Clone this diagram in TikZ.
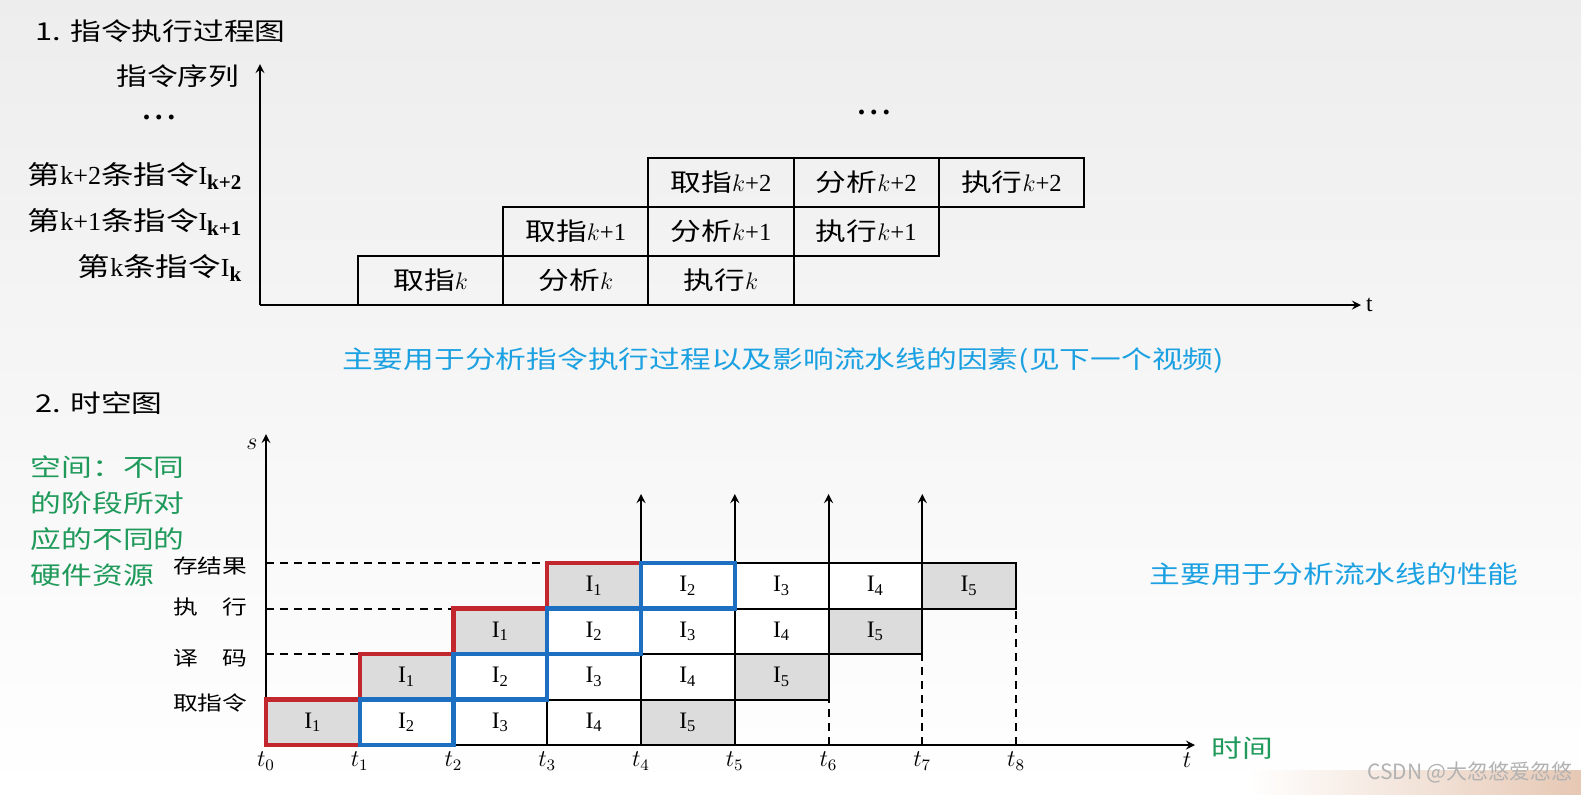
\documentclass[tikz,border=0pt]{standalone}
\usepackage{fontspec}
\setmainfont{Liberation Serif}
\newfontfamily\cjk[FakeStretch=1.25]{Noto Sans CJK SC}
\newfontfamily\cjkplain{Noto Sans CJK SC}
\newcommand\zh[1]{{\cjk #1}}
\newcommand\lowsub[1]{\raisebox{-0.35ex}{\fontsize{10.5}{12}\selectfont\bfseries #1}}
\definecolor{notecyan}{HTML}{1BA1E2}
\definecolor{notegreen}{HTML}{1F9A5B}
\definecolor{stagered}{HTML}{C1272D}
\definecolor{stageblue}{HTML}{1D6FC2}
\definecolor{cellgray}{HTML}{DCDCDC}
\definecolor{peach}{HTML}{E6C8B4}
\begin{document}
\begin{tikzpicture}[x=0.5pt,y=-0.5pt,line width=1pt,>=stealth,
	font=\fontsize{11.8}{13}\selectfont,
	zhbig/.style={font=\cjk\fontsize{12.3}{18}\selectfont},
	zhsmall/.style={font=\cjk\fontsize{9.9}{11}\selectfont},
	topbox/.style={draw,minimum width=72.6pt,minimum height=24.5pt,inner sep=0pt,outer sep=0pt,font=\fontsize{12.3}{14}\selectfont},
	cell/.style={draw,minimum width=46.875pt,minimum height=22.75pt,inner sep=0pt,outer sep=0pt},
	guide/.style={dash pattern=on 4pt off 3pt},
	redline/.style={stagered,line width=2.2pt,line join=miter},
	blueline/.style={stageblue,line width=2.2pt,line join=miter},
	bigdots/.style={font=\fontsize{15}{15}\selectfont\bfseries}]
	\fill[top color=black!7,bottom color=white] (0,0) rectangle (1581,794);
	\useasboundingbox (0,0) rectangle (1581,794);
	% 1. instruction sequence
	\node[zhbig,anchor=west] (title1) at (28,31) {1. 指令执行过程图};
	\coordinate (o1) at (260,305);
	\draw[->] (o1) -- (260,64) coordinate (ya1);
	\draw[->] (o1) -- (1361,305) coordinate (xa1);
	\node[anchor=west,inner sep=2pt] (tt1) at (xa1) {t};
	\node[zhbig,anchor=east] (seq) at (247,76) {指令序列};
	\node[bigdots] (dots1) at (159,117) {.\,.\,.};
	\node[anchor=east,font=\fontsize{13}{14}\selectfont] (ik2) at (249,176) {\zh{第}k+2\zh{条指令}I\lowsub{k+2}};
	\node[anchor=east,font=\fontsize{13}{14}\selectfont] (ik1) at (249,222) {\zh{第}k+1\zh{条指令}I\lowsub{k+1}};
	\node[anchor=east,font=\fontsize{13}{14}\selectfont] (ik0) at (249,268) {\zh{第}k\zh{条指令}I\lowsub{k}};
	\foreach \r/\s in {0/{},1/+1,2/+2}
		\foreach \c/\w in {0/取指,1/分析,2/执行}{
			\pgfmathtruncatemacro\col{\r+\c}
			\node[topbox] (b\r\c) at ({358+145.2*(\col+0.5)},{305-49*(\r+0.5)}) {\zh{\w}$k$\s};
		}
	\node[bigdots] (dots2) at (874,112) {.\,.\,.};
	\node[zhbig,notecyan] (note1) at (783,361) {主要用于分析指令执行过程以及影响流水线的因素(见下一个视频)};
	% 2. space-time chart
	\node[zhbig,anchor=west] (title2) at (28,403) {2. 时空图};
	\node[zhbig,notegreen,anchor=west,align=left,inner sep=0pt] (space) at (30,521) {空间：不同\\的阶段所对\\应的不同的\\硬件资源};
	\foreach \i in {0,...,8}{
		\coordinate (t\i) at ({266+93.75*\i},745);
		\node[anchor=north,inner sep=3pt] (tl\i) at (t\i) {$t_{\i}$};
	}
	\foreach \j in {0,...,4}
		\coordinate (r\j) at (266,{745-45.5*\j});
	\coordinate (top) at (266,494);
	\foreach \j in {0,...,3}
		\foreach \i in {1,...,5}{
			\pgfmathtruncatemacro\isgray{(\i==1||\i==5)}
			\ifnum\isgray=1 \def\cellfill{cellgray}\else\def\cellfill{white}\fi
			\node[cell,fill=\cellfill] (c\j\i) at ({266+93.75*(\i+\j-0.5)},{745-45.5*(\j+0.5)}) {I\textsubscript{\i}};
		}
	\foreach \k in {4,5}
		\draw[->] (t\k) -- (t\k |- top);
	\draw[guide] (t6) -- (t6 |- r1);
	\draw[->] (t6 |- r1) -- (t6 |- top);
	\draw[guide] (t7) -- (t7 |- r2);
	\draw[->] (t7 |- r2) -- (t7 |- top);
	\draw[guide] (t8) -- (t8 |- r3);
	\draw[guide] (r2) -- (t1 |- r2);
	\draw[guide] (r3) -- (t2 |- r3);
	\draw[guide] (r4) -- (t3 |- r4);
	\draw[->] (t0) -- (266,434) coordinate (sa);
	\node (slab) at (252,444) {$s$};
	\draw[->] (t0) -- (1195,745) coordinate (ta);
	\node (tlab) at (1187,760) {$t$};
	\node[zhbig,notegreen] (time) at (1242,748) {时间};
	\node[zhsmall,anchor=east] (st0) at (255,703) {取指令};
	\node[zhsmall,anchor=east] (st1) at (255,658) {译　码};
	\node[zhsmall,anchor=east] (st2) at (255,607) {执　行};
	\node[zhsmall,anchor=east] (st3) at (255,566) {存结果};
	% I1 path and I2 boxes
	\draw[redline] (t1) -- (t0) -- (t0 |- r1) -- (t1 |- r1) -- (t1 |- r2) -- (t2 |- r2) -- (t2 |- r3) -- (t3 |- r3) -- (t3 |- r4) -- (t4 |- r4);
	\foreach \j in {0,...,3}
		\draw[blueline] (c\j2.south west) rectangle (c\j2.north east);
	\node[zhbig,notecyan] (note2) at (1334,574) {主要用于分析流水线的性能};
	% watermark
	\shade[left color=white,right color=peach] (1247,770) rectangle (1581,794);
	\node[font=\cjkplain\fontsize{10.5}{12}\selectfont,gray!60] (mark) at (1470,772) {CSDN @大忽悠爱忽悠};
\end{tikzpicture}
\end{document}
